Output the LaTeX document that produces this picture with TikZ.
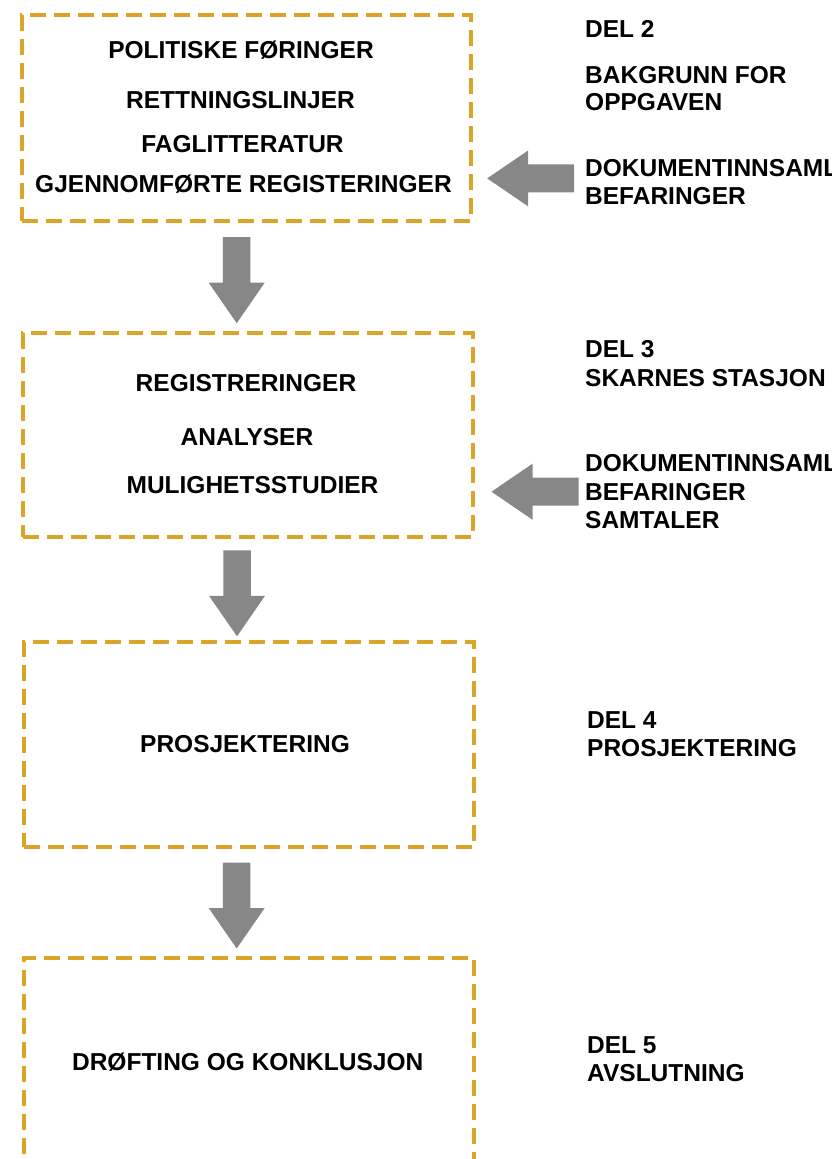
\documentclass[tikz,border=0pt]{standalone}
\usepackage{fontspec}
\setmainfont{Liberation Sans}
\usetikzlibrary{
    calc,
    positioning
}
\definecolor{boxgold}{RGB}{218,165,38}
\definecolor{arrowgray}{RGB}{135,135,135}
\tikzset{
    stagebox/.style={draw=boxgold, line width=4pt, dash pattern=on 16pt off 8pt,
        minimum width=450pt, minimum height=205pt, inner sep=0pt},
    boxtext/.style={inner sep=0pt, font=\fontsize{24.5}{28}\selectfont\bfseries},
    sidetext/.style={boxtext, anchor=west},
    downarrow/.pic={
        \fill[arrowgray] (-13.75,0) -- (13.75,0) -- (13.75,45.5) -- (28,45.5)
            -- (0,86) -- (-28,45.5) -- (-13.75,45.5) -- cycle;
    },
    leftarrow/.pic={
        \fill[arrowgray] (0,0) -- (41,-28) -- (41,-14) -- (87,-14)
            -- (87,14) -- (41,14) -- (41,28) -- cycle;
    }
}

\begin{document}
\begin{tikzpicture}[x=1pt, y=-1pt]
    \useasboundingbox (0,0) rectangle (832,1159);
    \clip (0,0) rectangle (832,1159);

    % the four stages
    \node[stagebox, minimum width=449pt, minimum height=206pt] (bakgrunn) at (246.7,118.2) {};
    \node[stagebox, minimum height=204pt] (skarnes) at (247.5,435) {};
    \node[stagebox] (prosjektering) at (249,744.5) {};
    \node[stagebox, minimum height=240pt] (drofting) at (249,1078.3) {};

    \node[boxtext] (foringer) at (241,50) {POLITISKE FØRINGER};
    \node[boxtext] (retning) at (240.5,100) {RETTNINGSLINJER};
    \node[boxtext] (fag) at (242.5,144) {FAGLITTERATUR};
    \node[boxtext] (gjennom) at (243.5,184) {GJENNOMFØRTE REGISTERINGER};

    \node[boxtext] (registr) at (246,383) {REGISTRERINGER};
    \node[boxtext] (analyser) at (247,437) {ANALYSER};
    \node[boxtext] (mulighet) at (252.5,485) {MULIGHETSSTUDIER};

    \node[boxtext] (prosj) at (245,744) {PROSJEKTERING};

    \node[boxtext] (konkl) at (247.7,1061.7) {DRØFTING OG KONKLUSJON};

    % arrows between the stages
    \pic at ($(bakgrunn.south)+(-10,14)$) {downarrow};
    \pic at ($(skarnes.south)+(-10.5,11.3)$) {downarrow};
    \pic at ($(prosjektering.south)+(-12.3,13.5)$) {downarrow};

    % right column
    \node[sidetext] (del2) at (585,29) {DEL 2};
    \node[sidetext] (bakgr1) at (585,75) {BAKGRUNN FOR};
    \node[sidetext] (bakgr2) at (585,102) {OPPGAVEN};
    \node[sidetext] (dok1) at (585,168) {DOKUMENTINNSAML};
    \node[sidetext] (bef1) at (585,196) {BEFARINGER};
    \pic at ($(bakgrunn.east)+(14,60.2)$) {leftarrow};

    \node[sidetext] (del3) at (585,349) {DEL 3};
    \node[sidetext] (stasjon) at (585,378) {SKARNES STASJON};
    \node[sidetext] (dok2) at (585,463.5) {DOKUMENTINNSAML};
    \node[sidetext] (bef2) at (585,492) {BEFARINGER};
    \node[sidetext] (samtaler) at (585,520.5) {SAMTALER};
    \pic at ($(skarnes.east)+(17,56.7)$) {leftarrow};

    \node[sidetext] (del4) at (587,720) {DEL 4};
    \node[sidetext] (prosjdel) at (587,748) {PROSJEKTERING};

    \node[sidetext] (del5) at (587,1045) {DEL 5};
    \node[sidetext] (avslutning) at (587,1073) {AVSLUTNING};
\end{tikzpicture}
\end{document}
